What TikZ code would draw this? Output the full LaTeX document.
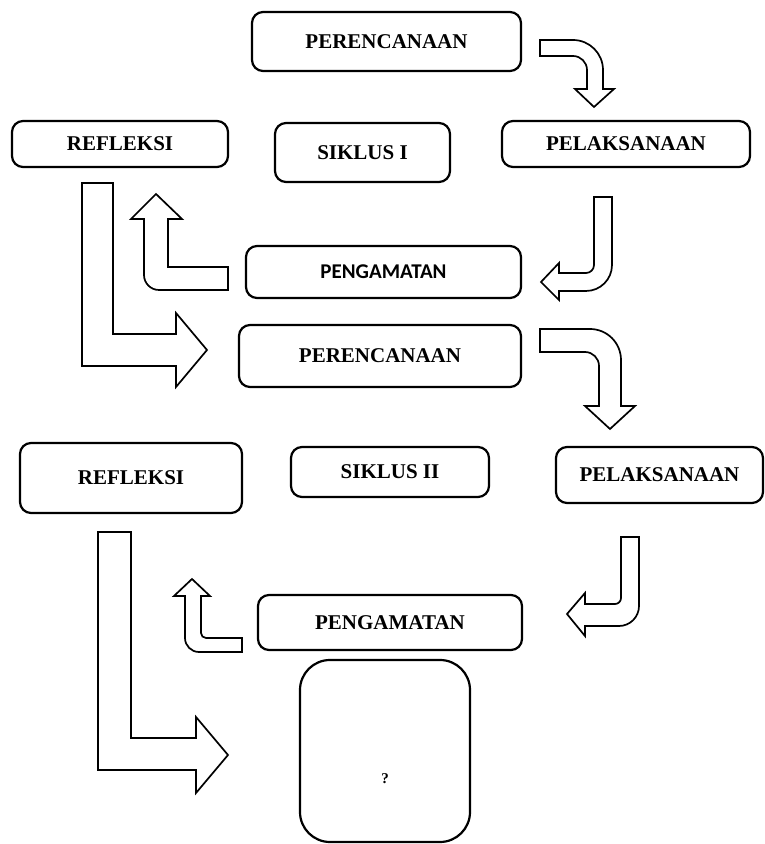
\documentclass[tikz,border=0pt]{standalone}
\usepackage{fontspec}
\setmainfont{Liberation Serif}
\newfontfamily\calibrifont{Carlito}

\tikzset{
  stage/.style={draw, rounded corners=11pt, line width=2.2pt, align=center,
    inner sep=0pt, font=\fontsize{21}{25}\selectfont\bfseries},
  bentarrow/.style={draw, line width=1.7pt, fill=white, line join=miter}
}

\begin{document}
\begin{tikzpicture}[x=1pt, y=1pt]
  \useasboundingbox (0,0) rectangle (765,844);

  % siklus I
  \node[stage, minimum width=269pt, minimum height=59pt] (ren1) at (386.5,802.5) {PERENCANAAN};
  \node[stage, minimum width=216pt, minimum height=46pt] (ref1) at (120,700) {REFLEKSI};
  \node[stage, minimum width=175pt, minimum height=59pt] (sik1) at (362.5,691.5) {SIKLUS I};
  \node[stage, minimum width=248pt, minimum height=46pt] (pel1) at (626,700) {PELAKSANAAN};
  \node[stage, minimum width=275pt, minimum height=52pt,
        font=\fontsize{21}{25}\calibrifont\bfseries] (pen1) at (383.5,572) {PENGAMATAN};

  % siklus II
  \node[stage, minimum width=282pt, minimum height=62pt] (ren2) at (380,488) {PERENCANAAN};
  \node[stage, minimum width=222pt, minimum height=70pt] (ref2) at (131,366) {REFLEKSI};
  \node[stage, minimum width=198pt, minimum height=50pt] (sik2) at (390,372) {SIKLUS II};
  \node[stage, minimum width=207pt, minimum height=56pt] (pel2) at (659.5,369) {PELAKSANAAN};
  \node[stage, minimum width=264pt, minimum height=55pt] (pen2) at (390,221.5) {PENGAMATAN};
  \node[stage, minimum width=170pt, minimum height=182pt, rounded corners=30pt,
        label={[font=\fontsize{15}{18}\selectfont\bfseries, yshift=-28pt]center:?}] (next) at (385,93) {};

  % panah siklus I
  \draw[bentarrow] (540,804) -- (573,804) arc[start angle=90, end angle=0, radius=30]
    -- (603,755) -- (614,755) -- (594,737) -- (575,755) -- (587,755) -- (587,774)
    arc[start angle=0, end angle=90, radius=14] -- (540,788) -- cycle;
  \draw[bentarrow] (594,647) -- (612,647) -- (612,579) arc[start angle=0, end angle=-90, radius=26]
    -- (559,553) -- (559,544) -- (541,562) -- (559,581) -- (559,571) -- (586,571)
    arc[start angle=-90, end angle=0, radius=8] -- cycle;
  \draw[bentarrow] (156,650) -- (182,625) -- (168,625) -- (168,577) -- (228,577) -- (228,554)
    -- (159,554) arc[start angle=270, end angle=180, radius=15] -- (144,625) -- (131,625) -- cycle;
  \draw[bentarrow] (82,661) -- (113,661) -- (113,510) -- (176,510) -- (176,531) -- (207,494)
    -- (176,457) -- (176,478) -- (82,478) -- cycle;

  % panah siklus II
  \draw[bentarrow] (540,515) -- (590,515) arc[start angle=90, end angle=0, radius=31]
    -- (621,438) -- (635,438) -- (610,415) -- (585,438) -- (599,438) -- (599,478)
    arc[start angle=0, end angle=90, radius=14] -- (540,492) -- cycle;
  \draw[bentarrow] (621,307) -- (639,307) -- (639,238) arc[start angle=0, end angle=-90, radius=20]
    -- (585,218) -- (585,208) -- (567,230) -- (585,251) -- (585,240) -- (615,240)
    arc[start angle=-90, end angle=0, radius=6] -- cycle;
  \draw[bentarrow] (192,265) -- (210,248) -- (201,248) -- (201,211)
    arc[start angle=180, end angle=270, radius=5] -- (242,206) -- (242,192) -- (199,192)
    arc[start angle=270, end angle=180, radius=14] -- (185,248) -- (174,248) -- cycle;
  \draw[bentarrow] (98,312) -- (131,312) -- (131,106) -- (196,106) -- (196,127) -- (228,89)
    -- (196,51) -- (196,74) -- (98,74) -- cycle;
\end{tikzpicture}
\end{document}
